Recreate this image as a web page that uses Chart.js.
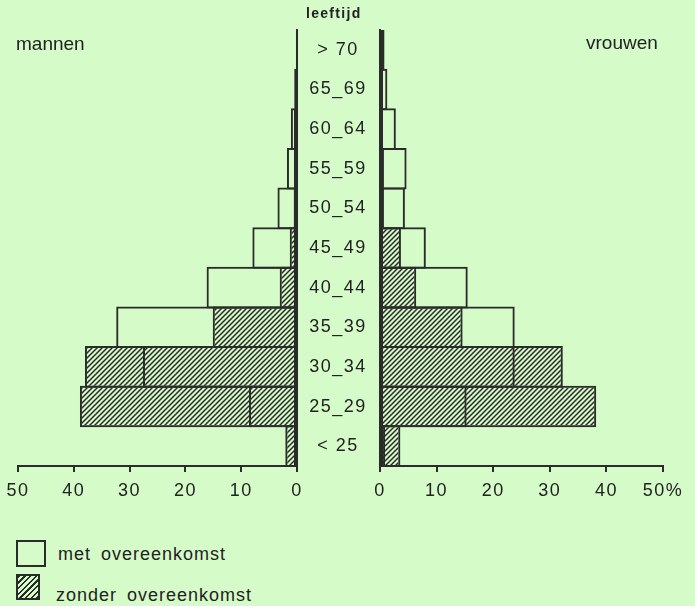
<!DOCTYPE html>
<html>
<head>
<meta charset="utf-8">
<script src="https://cdn.jsdelivr.net/npm/chart.js@4.4.1/dist/chart.umd.min.js"></script>
<style>
    body { margin: 0; background: #d5fbc8; }
    #wrap { position: relative; width: 695px; height: 606px; background: #d5fbc8; overflow: hidden;
            font-family: "Liberation Sans", Arial, sans-serif; color: #222; }
    .abs { position: absolute; white-space: nowrap; }
    #left { position: absolute; left: 0; top: 0; }
    #right { position: absolute; left: 296px; top: 0; }
    .swatch { position: absolute; border: 2px solid #2b2b2b; box-sizing: border-box; }
</style>
</head>
<body>
<div id="wrap">
    <canvas id="left" width="305" height="510"></canvas>
    <canvas id="right" width="399" height="510"></canvas>

    <div class="abs" style="left:306px; top:5px; font-size:14px; font-weight:bold; letter-spacing:1.3px;">leeftijd</div>
    <div class="abs" style="left:16px; top:33px; font-size:19px;">mannen</div>
    <div class="abs" style="left:586px; top:32px; font-size:19px;">vrouwen</div>

    <!-- legenda -->
    <div class="swatch" style="left:16px; top:540px; width:30px; height:27px;"></div>
    <div class="abs" style="left:58px; top:544px; font-size:18px; letter-spacing:1px; word-spacing:4px;">met overeenkomst</div>
    <div class="swatch" style="left:16px; top:574px; width:24px; height:26px;
         background: repeating-linear-gradient(-45deg, #2b2b2b 0 1.5px, transparent 1.5px 4px);"></div>
    <div class="abs" style="left:56px; top:585px; font-size:18px; letter-spacing:1px; word-spacing:4px;">zonder overeenkomst</div>
</div>

<script>
// Leeftijdsgroepen (van boven naar beneden)
const ageGroups = ['> 70', '65_69', '60_64', '55_59', '50_54', '45_49', '40_44', '35_39', '30_34', '25_29', '< 25'];

// Percentages mannen
const menMet    = [0.2, 0.5, 1.1, 1.8, 3.5, 8.0, 16.2, 32.4, 27.6, 8.6, 0];
const menZonder = [0, 0.2, 0, 0, 0.6, 1.3, 3.1, 15.1, 38.0, 38.9, 2.1];

// Percentages vrouwen
const womenMet    = [0.8, 1.3, 2.8, 4.7, 4.4, 8.1, 15.5, 23.8, 23.8, 15.3, 0.9];
const womenZonder = [0, 0, 0, 0.7, 0.7, 3.7, 6.4, 14.6, 32.3, 38.2, 3.6];

const xTicks = [0, 10, 20, 30, 40, 50];

const ink = '#2b2b2b';
const textColor = '#222';
const tickFont = { family: 'Liberation Sans', size: 18 };

// Arcering voor "zonder overeenkomst"
function makeHatch() {
    const s = 5;
    const c = document.createElement('canvas');
    c.width = s;
    c.height = s;
    const g = c.getContext('2d');
    g.strokeStyle = ink;
    g.lineWidth = 1.5;
    g.beginPath();
    g.moveTo(0, s); g.lineTo(s, 0);
    g.moveTo(-1, 1); g.lineTo(1, -1);
    g.moveTo(s - 1, s + 1); g.lineTo(s + 1, s - 1);
    g.stroke();
    return g.createPattern(c, 'repeat');
}

// Iets ruimere letterafstand zoals in het origineel
const spacingPlugin = {
    id: 'spacing',
    beforeDraw(chart) {
        chart.ctx.letterSpacing = '1.5px';
    }
};

function datasets(met, zonder) {
    return [
        {
            label: 'met overeenkomst',
            data: met,
            backgroundColor: 'rgba(0,0,0,0)',
            borderColor: ink,
            borderWidth: 2,
            borderSkipped: false,
            grouped: false,
            barPercentage: 1.05,
            categoryPercentage: 1
        },
        {
            label: 'zonder overeenkomst',
            data: zonder,
            backgroundColor: makeHatch(),
            borderColor: ink,
            borderWidth: 2,
            borderSkipped: false,
            grouped: false,
            barPercentage: 1.05,
            categoryPercentage: 1
        }
    ];
}

function xScale(reverse, lastLabel) {
    return {
        type: 'linear',
        min: 0,
        max: 50,
        reverse: reverse,
        afterBuildTicks: (axis) => { axis.ticks = xTicks.map(v => ({ value: v })); },
        afterFit: (axis) => { axis.height = 44; },
        ticks: {
            color: textColor,
            font: tickFont,
            padding: 8,
            maxRotation: 0,
            callback: (v) => (v === 50 && lastLabel ? lastLabel : String(v))
        },
        grid: {
            display: true,
            drawOnChartArea: false,
            drawTicks: true,
            tickLength: 6,
            color: ink,
            lineWidth: 2
        },
        border: { display: true, color: ink, width: 2 }
    };
}

// Mannen (links, gespiegeld)
new Chart(document.getElementById('left'), {
    type: 'bar',
    data: { labels: ageGroups, datasets: datasets(menMet, menZonder) },
    plugins: [spacingPlugin],
    options: {
        indexAxis: 'y',
        responsive: false,
        animation: false,
        layout: { padding: { left: 18, top: 30, right: 0, bottom: 0 } },
        scales: {
            x: xScale(true, null),
            y: {
                position: 'right',
                afterFit: (axis) => { axis.width = 8; },
                ticks: { display: false },
                grid: { display: false, drawTicks: false },
                border: { display: true, color: ink, width: 2 }
            }
        },
        plugins: { legend: { display: false }, tooltip: { enabled: false } }
    }
});

// Vrouwen (rechts) met de leeftijdslabels in het midden
new Chart(document.getElementById('right'), {
    type: 'bar',
    data: { labels: ageGroups, datasets: datasets(womenMet, womenZonder) },
    plugins: [spacingPlugin],
    options: {
        indexAxis: 'y',
        responsive: false,
        animation: false,
        layout: { padding: { left: 0, top: 30, right: 32, bottom: 0 } },
        scales: {
            x: xScale(false, '50%'),
            y: {
                position: 'left',
                afterFit: (axis) => { axis.width = 84; },
                ticks: {
                    color: textColor,
                    font: tickFont,
                    crossAlign: 'center',
                    padding: 17
                },
                grid: { display: false, drawTicks: false },
                border: { display: true, color: ink, width: 2 }
            }
        },
        plugins: { legend: { display: false }, tooltip: { enabled: false } }
    }
});
</script>
</body>
</html>
